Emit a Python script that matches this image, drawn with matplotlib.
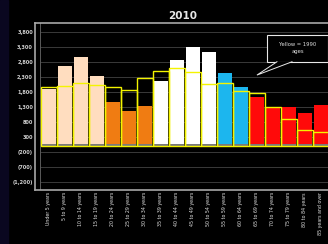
import matplotlib.pyplot as plt
import matplotlib.patches as patches
import numpy as np

# age groups, 2010 population bars and 1990 outline
ages = ["Under 5 years", "5 to 9 years", "10 to 14 years", "15 to 19 years",
        "20 to 24 years", "25 to 29 years", "30 to 34 years", "35 to 39 years",
        "40 to 44 years", "45 to 49 years", "50 to 54 years", "55 to 59 years",
        "60 to 64 years", "65 to 69 years", "70 to 74 years", "75 to 79 years",
        "80 to 84 years", "85 years and over"]
pop_2010 = [1910, 2670, 2970, 2320, 1450, 1160, 1320, 2160, 2850, 3300,
            3120, 2430, 1950, 1630, 1300, 1280, 1100, 1360]
pop_1990 = [1950, 1990, 2080, 2030, 1950, 1860, 2260, 2490, 2600, 2470,
            2060, 2080, 1830, 1750, 1300, 910, 520, 470]
bar_colors = ['#FFDDBF'] * 4 + ['#F07C12'] * 3 + ['#FFFFFF'] * 4 + ['#1CB6EE'] * 2 + ['#FF0A0A'] * 5
yticks = [3800, 3300, 2800, 2300, 1800, 1300, 800, 300, -200, -700, -1200]
ytick_labels = ["3,800", "3,300", "2,800", "2,300", "1,800", "1,300", "800", "300",
                "(200)", "(700)", "(1,200)"]

fig = plt.figure(figsize=(3.28, 2.44), dpi=100)
fig.patch.set_facecolor('black')
# dark navy strip on the left edge
fig.patches.append(plt.Rectangle((0, 0), 7.5 / 328, 1, transform=fig.transFigure,
                                 color='#0a0720', zorder=0))

ax = fig.add_axes([35 / 328, 1 - 190 / 244, (345 - 35) / 328, (190 - 22.7) / 244])
ax.set_facecolor('black')

x = np.arange(len(ages))
ax.bar(x, pop_2010, width=0.9, color=bar_colors, zorder=3)
# grey foot on each bar
ax.bar(x, [60] * len(ages), width=0.9, color='#7a7a7a', zorder=3.5)
ax.bar(x, pop_1990, width=1.0, fill=False, edgecolor='#F4F400', linewidth=1.0, zorder=4)

ax.set_xlim(-0.86, 18.5)
ax.set_ylim(-1467, 4100)
ax.set_yticks(yticks)
ax.set_yticklabels(ytick_labels, fontsize=3.6, color='#d0d0d0', fontweight='bold')
ax.set_xticks(x)
ax.set_xticklabels(ages, rotation=90, fontsize=3.4, color='#e0e0e0')
ax.tick_params(length=0, pad=1.5)
for yt in yticks:
    ax.axhline(yt, xmin=0.016, color='#3a3a3a', linewidth=0.7, zorder=1)
ax.axvline(-0.56, color='#5a5a5a', linewidth=0.7, zorder=1)
for s in ax.spines.values():
    s.set_color('#a8a8a8')
    s.set_linewidth(1.2)

ax.set_title("2010", color='#e8e8e8', fontsize=7.5, fontweight='bold', pad=3,
             x=(183 - 35) / (345 - 35))

# callout box with a wedge pointer
ax.add_patch(patches.Rectangle((13.63, 2800), 17.44 - 13.63, 3690 - 2800,
                               fc='black', ec='#e8e8e8', lw=0.8, zorder=6))
ax.add_patch(patches.Polygon([(14.25, 2800), (13.0, 2357), (15.19, 2800)], closed=True,
                             fc='black', ec='none', zorder=7))
ax.plot([14.25, 13.0, 15.19], [2800, 2357, 2800], color='#e8e8e8', lw=0.7, zorder=7,
        solid_joinstyle='miter')
ax.text(15.53, 3245, "Yellow = 1990\nages", fontsize=3.8, color='#e0e0e0',
        ha='center', va='center', zorder=8, linespacing=1.5)

plt.savefig("out.png", dpi=100, facecolor=fig.get_facecolor())
